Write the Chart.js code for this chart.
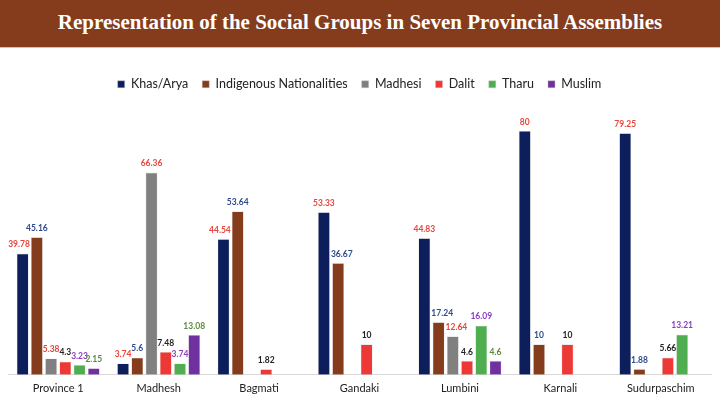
<!DOCTYPE html>
<html>
<head>
<meta charset="utf-8">
<script src="https://cdn.jsdelivr.net/npm/chart.js@4"></script>
<style>
  html, body { margin: 0; padding: 0; background: #fff; overflow: hidden; }
  .header {
    width: 720px; height: 47px; background: #843c1d;
    border-bottom: 1px solid #dcbcaa;
    color: #fff; font: bold 21px "Liberation Serif", serif;
    text-align: center; line-height: 45px;
  }
  canvas { display: block; }
</style>
</head>
<body>
<div class="header">Representation of the Social Groups in Seven Provincial Assemblies</div>
<canvas id="chart" width="720" height="354"></canvas>
<script>
const provinces = ["Province 1", "Madhesh", "Bagmati", "Gandaki", "Lumbini", "Karnali", "Sudurpaschim"]

const khasArya = [39.78, 3.74, 44.54, 53.33, 44.83, 80, 79.25]
const indigenous = [45.16, 5.6, 53.64, 36.67, 17.24, 10, 1.88]
const madhesi = [5.38, 66.36, 0, 0, 12.64, 0, 0]
const dalit = [4.3, 7.48, 1.82, 10, 4.6, 10, 5.66]
const tharu = [3.23, 3.74, 0, 0, 16.09, 0, 13.21]
const muslim = [2.15, 13.08, 0, 0, 4.6, 0, 0]

const series = [
  { label: "Khas/Arya", data: khasArya, color: "#0c1f5c", labelColor: "#e8453c" },
  { label: "Indigenous Nationalities", data: indigenous, color: "#843c1d", labelColor: "#2e4a8b" },
  { label: "Madhesi", data: madhesi, color: "#808080", labelColor: "#e8453c" },
  { label: "Dalit", data: dalit, color: "#ec3935", labelColor: "#222222" },
  { label: "Tharu", data: tharu, color: "#4fae50", labelColor: "#8a3fc0" },
  { label: "Muslim", data: muslim, color: "#7030a0", labelColor: "#5a8a3c" }
]

// value labels above each bar, skipping empty ones and nudged off taller neighbours
const barLabels = {
  id: "barLabels",
  afterDatasetsDraw(chart) {
    const { ctx } = chart
    const n = chart.data.datasets.length
    const barAt = (i, j) => {
      if (i < 0 || i >= n || !chart.data.datasets[i].data[j]) return null
      return chart.getDatasetMeta(i).data[j]
    }
    ctx.save()
    ctx.font = "bold 8.5px Lato"
    ctx.textAlign = "center"
    ctx.textBaseline = "middle"
    chart.data.datasets.forEach((ds, i) => {
      chart.getDatasetMeta(i).data.forEach((bar, j) => {
        const v = ds.data[j]
        if (!v) return
        const text = String(v)
        const w = ctx.measureText(text).width
        const y = bar.y - 9
        let x = bar.x
        const left = barAt(i - 1, j)
        const right = barAt(i + 1, j)
        const hitL = left && left.y < y + 4 && x - w / 2 < left.x + left.width / 2 - 1.5
        const hitR = right && right.y < y + 4 && x + w / 2 > right.x - right.width / 2 + 1.5
        if (hitL && !hitR) x = left.x + left.width / 2 + w / 2 + 1
        if (hitR && !hitL) x = right.x - right.width / 2 - w / 2 - 1
        ctx.fillStyle = ds.labelColor
        ctx.fillText(text, x, y)
      })
    })
    ctx.restore()
  }
}

new Chart(document.getElementById("chart"), {
  type: "bar",
  data: {
    labels: provinces,
    datasets: series.map(s => ({
      label: s.label,
      data: s.data,
      backgroundColor: s.color,
      borderColor: "rgba(200,200,200,0.6)",
      borderWidth: 0.6,
      labelColor: s.labelColor,
      categoryPercentage: 0.85,
      barPercentage: 0.84
    }))
  },
  options: {
    responsive: false,
    animation: false,
    devicePixelRatio: 1,
    layout: { padding: { left: 8, right: 9, top: 16, bottom: 0 } },
    plugins: {
      tooltip: { enabled: false },
      legend: {
        position: "top",
        labels: {
          boxWidth: 7,
          boxHeight: 7,
          padding: 14,
          color: "#222",
          font: { family: "Lato", size: 12.5 }
        }
      }
    },
    scales: {
      x: {
        grid: { display: false, drawTicks: false },
        border: { color: "#d9d9d9", width: 1 },
        ticks: { color: "#222", font: { family: "Lato", size: 11 }, padding: 7, maxRotation: 0 }
      },
      y: { display: false, min: 0, max: 90 }
    }
  },
  plugins: [barLabels]
})
</script>
</body>
</html>
